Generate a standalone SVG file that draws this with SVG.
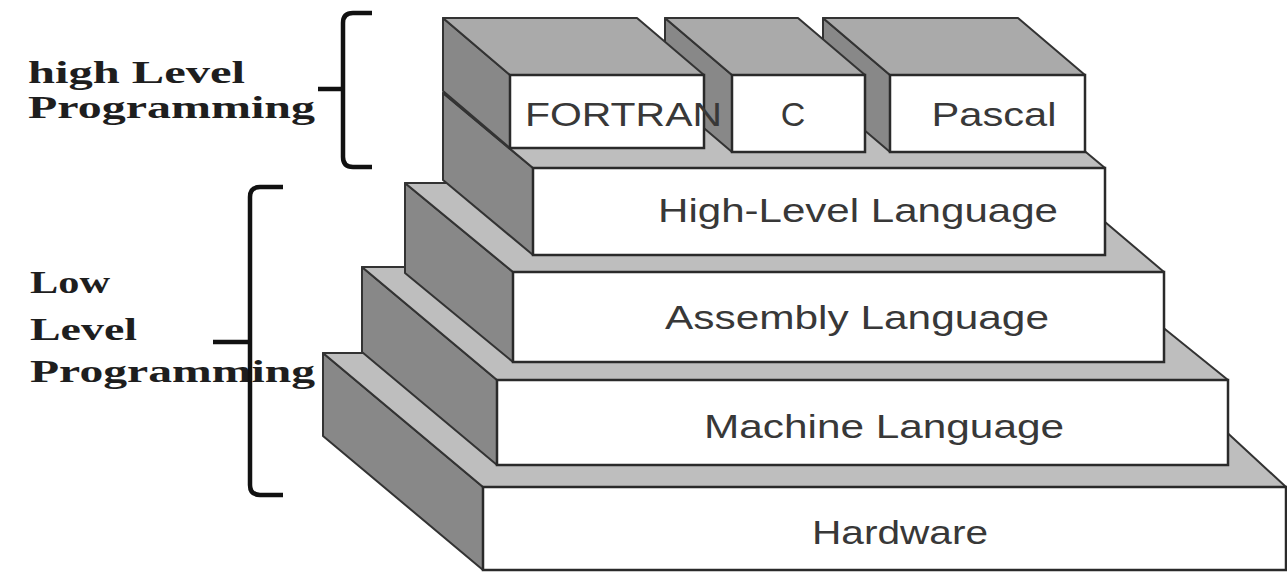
<svg xmlns="http://www.w3.org/2000/svg" width="1287" height="573" viewBox="0 0 1287 573">
<style>
.side{fill:#888888;stroke:#333333;stroke-width:2;stroke-linejoin:round}
.top{fill:#bebebe;stroke:#333333;stroke-width:2;stroke-linejoin:round}
.btop{fill:#aaaaaa;stroke:#333333;stroke-width:2;stroke-linejoin:round}
.front{fill:#ffffff;stroke:#2a2a2a;stroke-width:2.5}
.lbl{font-family:"Liberation Sans",Arial,sans-serif;font-size:34px;fill:#383838}
.note{font-family:"Liberation Serif","Times New Roman",serif;font-weight:bold;font-size:31px;fill:#1e1e1e}
.brace{fill:none;stroke:#111111;stroke-width:4.5}
</style>
<rect width="1287" height="573" fill="#ffffff"/>
<g id="label-high">
<text class="note" x="28" y="83" textLength="217" lengthAdjust="spacingAndGlyphs">high Level</text>
<text class="note" x="28" y="118" textLength="287" lengthAdjust="spacingAndGlyphs">Programming</text>
</g>
<g id="label-low">
<text class="note" x="30" y="293" textLength="80" lengthAdjust="spacingAndGlyphs">Low</text>
<text class="note" x="30" y="340" textLength="107" lengthAdjust="spacingAndGlyphs">Level</text>
<text class="note" x="30" y="382" textLength="285" lengthAdjust="spacingAndGlyphs">Programming</text>
</g>
<g id="hardware">
<polygon class="side" points="483,487 483,570 323,436 323,353"/>
<polygon class="top" points="483,487 1286,487 1141,353 323,353"/>
<rect class="front" x="483" y="487" width="803" height="83"/>
<text class="lbl" x="900" y="544" text-anchor="middle" textLength="176" lengthAdjust="spacingAndGlyphs">Hardware</text>
</g>
<g id="machine-language">
<polygon class="side" points="497,380 497,465 362,352 362,267"/>
<polygon class="top" points="497,380 1228,380 1088,267 362,267"/>
<rect class="front" x="497" y="380" width="731" height="85"/>
<text class="lbl" x="884" y="438" text-anchor="middle" textLength="360" lengthAdjust="spacingAndGlyphs">Machine Language</text>
</g>
<g id="assembly-language">
<polygon class="side" points="513,272 513,362 405,273 405,183"/>
<polygon class="top" points="513,272 1164,272 1059,183 405,183"/>
<rect class="front" x="513" y="272" width="651" height="90"/>
<text class="lbl" x="857" y="329" text-anchor="middle" textLength="384" lengthAdjust="spacingAndGlyphs">Assembly Language</text>
</g>
<g id="high-level-language">
<polygon class="side" points="533,168 533,255 443,180 443,93"/>
<polygon class="top" points="533,168 1105,168 1015,93 443,93"/>
<rect class="front" x="533" y="168" width="572" height="87"/>
<text class="lbl" x="858" y="222" text-anchor="middle" textLength="400" lengthAdjust="spacingAndGlyphs">High-Level Language</text>
</g>
<g id="pascal">
<polygon class="side" points="890,75 890,152 823,95 823,18"/>
<polygon class="btop" points="890,75 1085,75 1018,18 823,18"/>
<rect class="front" x="890" y="75" width="195" height="77"/>
<text class="lbl" x="994" y="126" text-anchor="middle" textLength="125" lengthAdjust="spacingAndGlyphs">Pascal</text>
</g>
<g id="c">
<polygon class="side" points="732,75 732,152 665,95 665,18"/>
<polygon class="btop" points="732,75 865,75 798,18 665,18"/>
<rect class="front" x="732" y="75" width="133" height="77"/>
<text class="lbl" x="793" y="126" text-anchor="middle">C</text>
</g>
<g id="fortran">
<polygon class="side" points="510,75 510,148 443,91 443,18"/>
<polygon class="btop" points="510,75 704,75 637,18 443,18"/>
<rect class="front" x="510" y="75" width="194" height="73"/>
<text class="lbl" x="525" y="126" textLength="197" lengthAdjust="spacingAndGlyphs">FORTRAN</text>
</g>
<g id="brackets">
<path class="brace" d="M372,13 H353 Q343,13 343,23 V157 Q343,167 353,167 H372 M318,89 H343"/>
<path class="brace" d="M283,187 H260 Q250,187 250,197 V485 Q250,495 260,495 H283 M213,342 H250"/>
</g>
</svg>
